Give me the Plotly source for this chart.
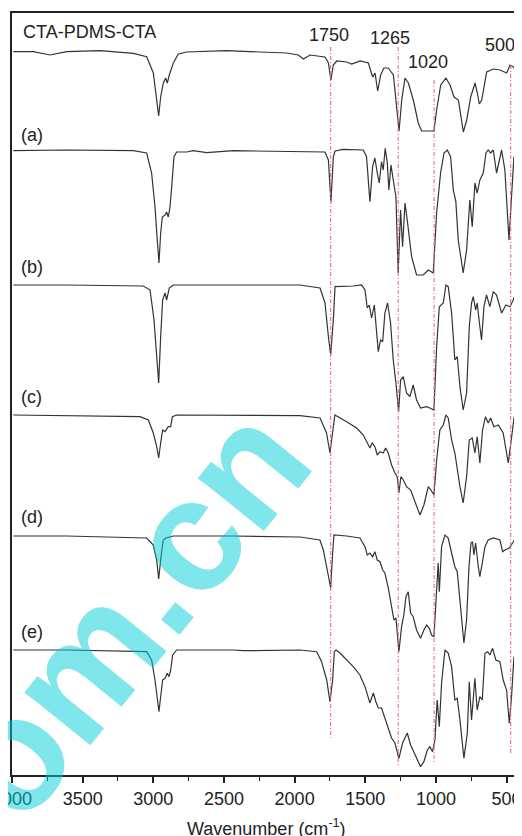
import plotly.graph_objects as go

# ---- data (wavenumber in cm-1, stacked transmittance in plot units, larger = lower) ----
a_wn = [3991, 3849, 3731, 3613, 3377, 3141, 3047, 3000, 2976, 2962, 2948, 2929, 2913, 2901, 2887, 2858, 2823, 2764,
        2481, 2056, 1974, 1938, 1891, 1785, 1761, 1743, 1726, 1702, 1632, 1596, 1537, 1478, 1448, 1431, 1412, 1391,
        1368, 1337, 1301, 1278, 1261, 1242, 1219, 1195, 1160, 1125, 1101, 1042, 1014, 995, 966, 929, 900, 872, 841,
        806, 782, 754, 723, 707, 693, 676, 660, 641, 594, 547, 499, 476, 452, 429, 406]
a_y = [51.7, 51.7, 55, 51.7, 50.7, 53.3, 56.7, 73, 100, 116, 97, 83, 78, 83, 75, 63, 54, 52,
       50.7, 53, 55, 59, 55, 57, 63, 80, 65, 61, 62, 64, 61, 63, 77, 73, 91, 75,
       68, 68, 75, 107, 131, 100, 78, 83, 100, 123, 131, 131, 131, 110, 85, 78, 85, 97, 100,
       132, 120, 97, 83, 93, 104, 100, 88, 72, 69, 70, 73, 65, 67, 70, 67]

b_wn = [3991, 3613, 3141, 3047, 3012, 2988, 2972, 2960, 2948, 2936, 2917, 2906, 2894, 2882, 2870, 2854, 2835, 2764,
        2717, 2622, 2434, 1962, 1785, 1761, 1743, 1726, 1714, 1656, 1514, 1491, 1467, 1448, 1432, 1415, 1401, 1385,
        1373, 1359, 1344, 1333, 1318, 1302, 1283, 1267, 1250, 1236, 1219, 1203, 1172, 1137, 1090, 1054, 1019, 995,
        967, 943, 920, 896, 877, 859, 842, 807, 783, 760, 743, 724, 708, 689, 665, 646, 630, 613, 594, 571, 535,
        512, 483, 465, 448, 429, 406]
b_y = [150.7, 150, 150.7, 153, 173, 207, 240, 263, 233, 217, 215, 212, 217, 207, 187, 157, 152, 152,
       150.7, 152.7, 150.7, 152, 152, 160, 202, 157, 151, 149.3, 150, 156.7, 201.7, 166.7, 158, 173, 183, 161.7,
       170, 148.3, 163, 190, 165, 180, 196.7, 273, 210, 246.7, 203, 220, 256.7, 275, 275, 270, 273, 213,
       173, 153, 150, 156.7, 190, 201.7, 240, 273, 250, 200, 226.7, 183, 193, 180, 173, 153, 150, 153, 150, 173, 150,
       170, 240, 196.7, 156.7, 160, 190]

c_wn = [3991, 3613, 3071, 3023, 2995, 2976, 2962, 2948, 2934, 2917, 2906, 2887, 2858, 2434, 1962, 1820, 1785, 1761,
        1745, 1726, 1714, 1585, 1526, 1502, 1486, 1472, 1455, 1436, 1420, 1408, 1392, 1377, 1361, 1342, 1321, 1302,
        1283, 1264, 1250, 1231, 1208, 1184, 1161, 1137, 1109, 1066, 1043, 1014, 995, 976, 948, 929, 913, 889, 866,
        849, 830, 807, 783, 764, 748, 736, 719, 708, 689, 677, 660, 642, 618, 594, 571, 535, 505, 476, 453, 417, 406]
c_y = [285, 285, 286, 290, 320, 356.7, 383, 336.7, 300, 293, 300, 288, 285, 285, 285, 288, 303, 336.7,
       355, 320, 286.7, 286, 285, 290, 308, 305, 318, 305, 333, 351.7, 340, 341.7, 313, 303, 323, 360,
       383, 411.7, 380, 376.7, 393, 396.7, 385, 400, 408, 406.7, 408, 410, 346.7, 306.7, 303, 285, 286.7, 313, 360,
       356.7, 386.7, 410, 393, 326.7, 303, 296.7, 310, 303, 326.7, 340, 306.7, 295, 306.7, 291.7, 295, 313, 305,
       306.7, 300, 286, 283]

d_wn = [3991, 3613, 3094, 3035, 3000, 2976, 2962, 2948, 2934, 2917, 2894, 2877, 2865, 2835, 2434, 1962, 1820, 1774,
        1750, 1731, 1715, 1632, 1561, 1514, 1491, 1467, 1451, 1432, 1415, 1396, 1373, 1356, 1337, 1314, 1290, 1274,
        1262, 1248, 1231, 1208, 1179, 1149, 1113, 1085, 1054, 1036, 1014, 995, 972, 948, 929, 913, 889, 866, 849,
        830, 807, 783, 764, 743, 724, 708, 689, 670, 649, 630, 613, 590, 559, 524, 488, 465, 446, 417, 406]
d_y = [415, 415.7, 416.7, 420, 433, 446.7, 458, 443, 430, 431.7, 426.7, 426.7, 416.7, 415, 415, 415.7, 418, 433,
       453, 430, 415, 421.7, 428, 435, 441.7, 448, 443, 446.7, 455, 451.7, 453, 448, 453, 465, 473, 476.7,
       493, 476.7, 480, 486.7, 490, 501.7, 515, 505, 486.7, 490, 495, 460, 430, 425, 415, 418, 440, 453, 470,
       486.7, 503, 476.7, 440, 438, 453, 436.7, 463, 430, 416.7, 423, 418, 426.7, 425, 433, 463, 436.7, 416.7,
       423, 425]

e_wn = [3991, 3613, 3047, 3000, 2976, 2962, 2948, 2930, 2910, 2858, 2434, 1962, 1821, 1797, 1769, 1745, 1731, 1722,
        1632, 1538, 1502, 1486, 1467, 1448, 1432, 1415, 1396, 1377, 1361, 1337, 1314, 1297, 1283, 1262, 1243, 1227,
        1212, 1196, 1179, 1161, 1137, 1109, 1085, 1066, 1047, 1031, 1014, 995, 984, 976, 960, 936, 913, 889, 866,
        849, 830, 802, 783, 766, 752, 741, 731, 719, 700, 689, 672, 653, 630, 594, 547, 528, 512, 481, 457, 429, 406]
e_y = [536, 536, 538, 545, 560, 579, 560, 540, 538, 536, 536, 537, 540, 550, 570, 588, 553, 535,
       536, 538, 546.7, 555, 553, 556.7, 551.7, 560, 561.7, 570, 573, 588, 606.7, 620, 618, 651.7, 626.7, 615,
       596.7, 591.7, 613, 616.7, 630, 638.3, 630, 625, 628.3, 635, 636.7, 580, 563, 591.7, 546.7, 535, 538, 553,
       566.7, 571.7, 603, 643, 620, 566.7, 543, 541.7, 555, 543, 566.7, 576.7, 563, 546.7, 540, 538, 540, 551.7,
       550, 548, 543, 536.7, 533]

f_wn = [3991, 3613, 3047, 3012, 2988, 2972, 2960, 2948, 2934, 2917, 2901, 2889, 2877, 2863, 2835, 2434, 2363, 1962,
        1844, 1809, 1773, 1750, 1731, 1719, 1707, 1679, 1632, 1585, 1538, 1502, 1467, 1443, 1425, 1408, 1385, 1361,
        1337, 1314, 1290, 1262, 1236, 1203, 1179, 1156, 1132, 1109, 1085, 1061, 1043, 1024, 1007, 991, 976, 960,
        936, 913, 889, 866, 849, 830, 802, 778, 764, 748, 724, 708, 689, 672, 653, 634, 618, 599, 576, 547, 524,
        500, 481, 465, 448, 429, 410]
f_y = [650, 650, 651.7, 660, 680, 700, 711.7, 696.7, 680, 678.3, 673.3, 676.7, 670, 655, 650, 650, 650.7, 650,
       651.7, 661.7, 680, 701.7, 680, 651.7, 650, 653, 660, 666.7, 675, 686.7, 703, 693, 701.7, 708, 708, 718,
       730, 738, 743, 758.3, 743, 733, 745, 751.7, 760, 766.7, 761.7, 750, 746.7, 751.7, 740, 700, 726.7, 683,
       650, 653, 666.7, 700, 698.3, 720, 758.3, 733, 681.7, 720, 678.3, 710, 696.7, 700, 653.3, 651.7, 655, 648.3,
       660, 661.7, 680, 690, 723.3, 696.7, 656.7, 661.7, 676.7]

series_wn = [a_wn, b_wn, c_wn, d_wn, e_wn, f_wn]
series_y = [a_y, b_y, c_y, d_y, e_y, f_y]
series_labels = ["(a)", "(b)", "(c)", "(d)", "(e)"]
label_y = [135, 267, 397, 517, 632]

peak_labels = ["1750", "1265", "1020", "500"]
peak_line_wn = [1745, 1267, 1013, 471]
peak_line_top = [47, 47, 80, 65]
peak_line_bottom = [740, 765, 763, 753]

x_ticks = [4000, 3500, 3000, 2500, 2000, 1500, 1000, 500]

# ---- figure ----
fig = go.Figure()
for wn, yy in zip(series_wn, series_y):
    fig.add_trace(go.Scatter(x=wn, y=yy, mode="lines",
                             line=dict(color="#333333", width=1.2),
                             showlegend=False, hoverinfo="skip"))

for wn, y0, y1 in zip(peak_line_wn, peak_line_top, peak_line_bottom):
    fig.add_shape(type="line", xref="x", yref="y", x0=wn, x1=wn, y0=y0, y1=y1,
                  line=dict(color="#ee6a88", width=1.1, dash="4px,2px,1px,2px"), layer="above")

font = dict(family="Liberation Sans, Arial, sans-serif", size=18, color="#222222")

# peak labels (positions are layout choices)
peak_label_pos = [(1757, 35), (1325, 38), (1057, 62), (548, 45)]
for txt, (lx, ly) in zip(peak_labels, peak_label_pos):
    fig.add_annotation(x=lx, y=ly, xref="x", yref="y", text=txt, showarrow=False,
                       font=font, xanchor="center", yanchor="middle")

for txt, ly in zip(series_labels, label_y):
    fig.add_annotation(x=0.014, y=ly, xref="paper", yref="y", text=txt, showarrow=False,
                       font=font, xanchor="left", yanchor="middle")

fig.add_annotation(x=0.017, y=31.5, xref="paper", yref="y", text="CTA-PDMS-CTA", showarrow=False,
                   font=font, xanchor="left", yanchor="middle")

fig.add_annotation(x=0.5, y=0, xref="paper", yref="paper", yanchor="top", yshift=-39,
                   text="Wavenumber (cm<sup>-1</sup>)", showarrow=False, font=font)

# watermark (semi-transparent so the spectra show through it)
fig.add_annotation(x=(126 - 12) / 508, y=(775 - 612) / 762, xref="paper", yref="paper",
                   text="<b>om.cn</b>", showarrow=False, textangle=-51,
                   font=dict(family="Liberation Sans, Arial, sans-serif", size=160, color="rgba(0,205,215,0.5)"),
                   xanchor="center", yanchor="middle")

# the page body adds an 8px offset; the figure is sized so the plot area lands at x 12..520, y 13..775
fig.update_layout(
    width=514, height=828,
    margin=dict(l=4, r=2, t=5, b=61, autoexpand=False),
    paper_bgcolor="white", plot_bgcolor="white",
    xaxis=dict(range=[4000, 405], tickvals=x_ticks, ticks="outside", ticklen=6, tickwidth=1.5,
               tickcolor="#222", showline=True, linecolor="#222", linewidth=2, mirror=True,
               showgrid=False, zeroline=False, tickfont=font, automargin=False,
               ticklabeloverflow="allow",
               minor=dict(dtick=250, ticks="outside", ticklen=4, tickwidth=1.2, tickcolor="#222")),
    yaxis=dict(range=[775, 13], showticklabels=False, ticks="", showline=True, linecolor="#222",
               linewidth=2, mirror=True, showgrid=False, zeroline=False, automargin=False),
)

fig.write_html("out.html")
